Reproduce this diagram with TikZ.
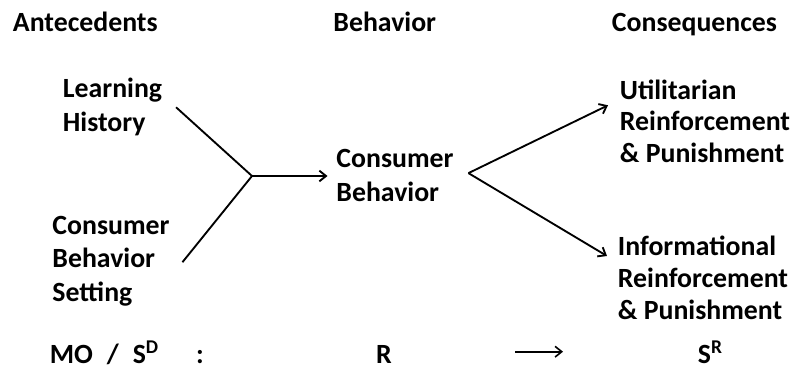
\documentclass[tikz,border=0pt]{standalone}
\usepackage{fontspec}
\setmainfont{Carlito}
\usetikzlibrary{arrows.meta,calc}

\begin{document}
\begin{tikzpicture}[x=0.75pt,y=-0.75pt,>={Straight Barb[length=5pt,width=8pt]},line width=1.4pt]
		\tikzstyle{every node}=[inner sep=0pt,align=left,font=\fontsize{20.85pt}{25.3pt}\selectfont\bfseries]
		\tikzstyle{tight}=[font=\fontsize{20.85pt}{23.8pt}\selectfont\bfseries]
		\useasboundingbox (0,0) rectangle (799,374);
		% column heads
		\node[anchor=base west]    (ante) at (12,31.5)     {Antecedents};
		\node[anchor=base west]    (behv) at (332.5,31.5)  {Behavior};
		\node[anchor=base west]    (cons) at (611,31.5)    {Consequences};
		% antecedents (base = last line)
		\node[anchor=base west]    (lh)   at (62,131.7)    {Learning\\History};
		\node[anchor=base west]    (cbs)  at (51.5,301.7)  {Consumer\\Behavior\\Setting};
		% behavior
		\node[anchor=base west]    (cb)   at (335.5,201)   {Consumer\\Behavior};
		% consequences
		\node[anchor=base west,tight] (ut)  at (619,162.7) {Utilitarian\\Reinforcement\\\& Punishment};
		\node[anchor=base west,tight] (inf) at (617,319)   {Informational\\Reinforcement\\\& Punishment};
		% bottom row
		\node[anchor=base west]    (mosd) at (49,363.3)    {MO\enspace/\enspace S\textsuperscript{D}};
		\node[anchor=base]         (col)  at (200,363.3)   {:};
		\node[anchor=base]         (r)    at (384,363.3)   {R};
		\node[anchor=base west]    (sr)   at (697,363.3)   {S\textsuperscript{R}};
		\coordinate (join) at (252,176);
		\coordinate (fork) at ($(cb.east)+(14,-2)$);
		\coordinate (ra)   at (515,351.7);
		\coordinate (rb)   at (563,351.7);
		\path[draw]
		($(lh.east)+(13,0)$) edge (join)
		($(cbs.east)+(12,1)$) edge (join)
		(join) edge[->,shorten >=6pt] (join -| cb.west)
		(fork) edge[->] ($(ut.west)+(-11,-16)$)
		(fork) edge[->] ($(inf.west)+(-10,-21.6)$)
		(ra) edge[->,line width=1.2pt] (rb);
	\end{tikzpicture}
\end{document}
